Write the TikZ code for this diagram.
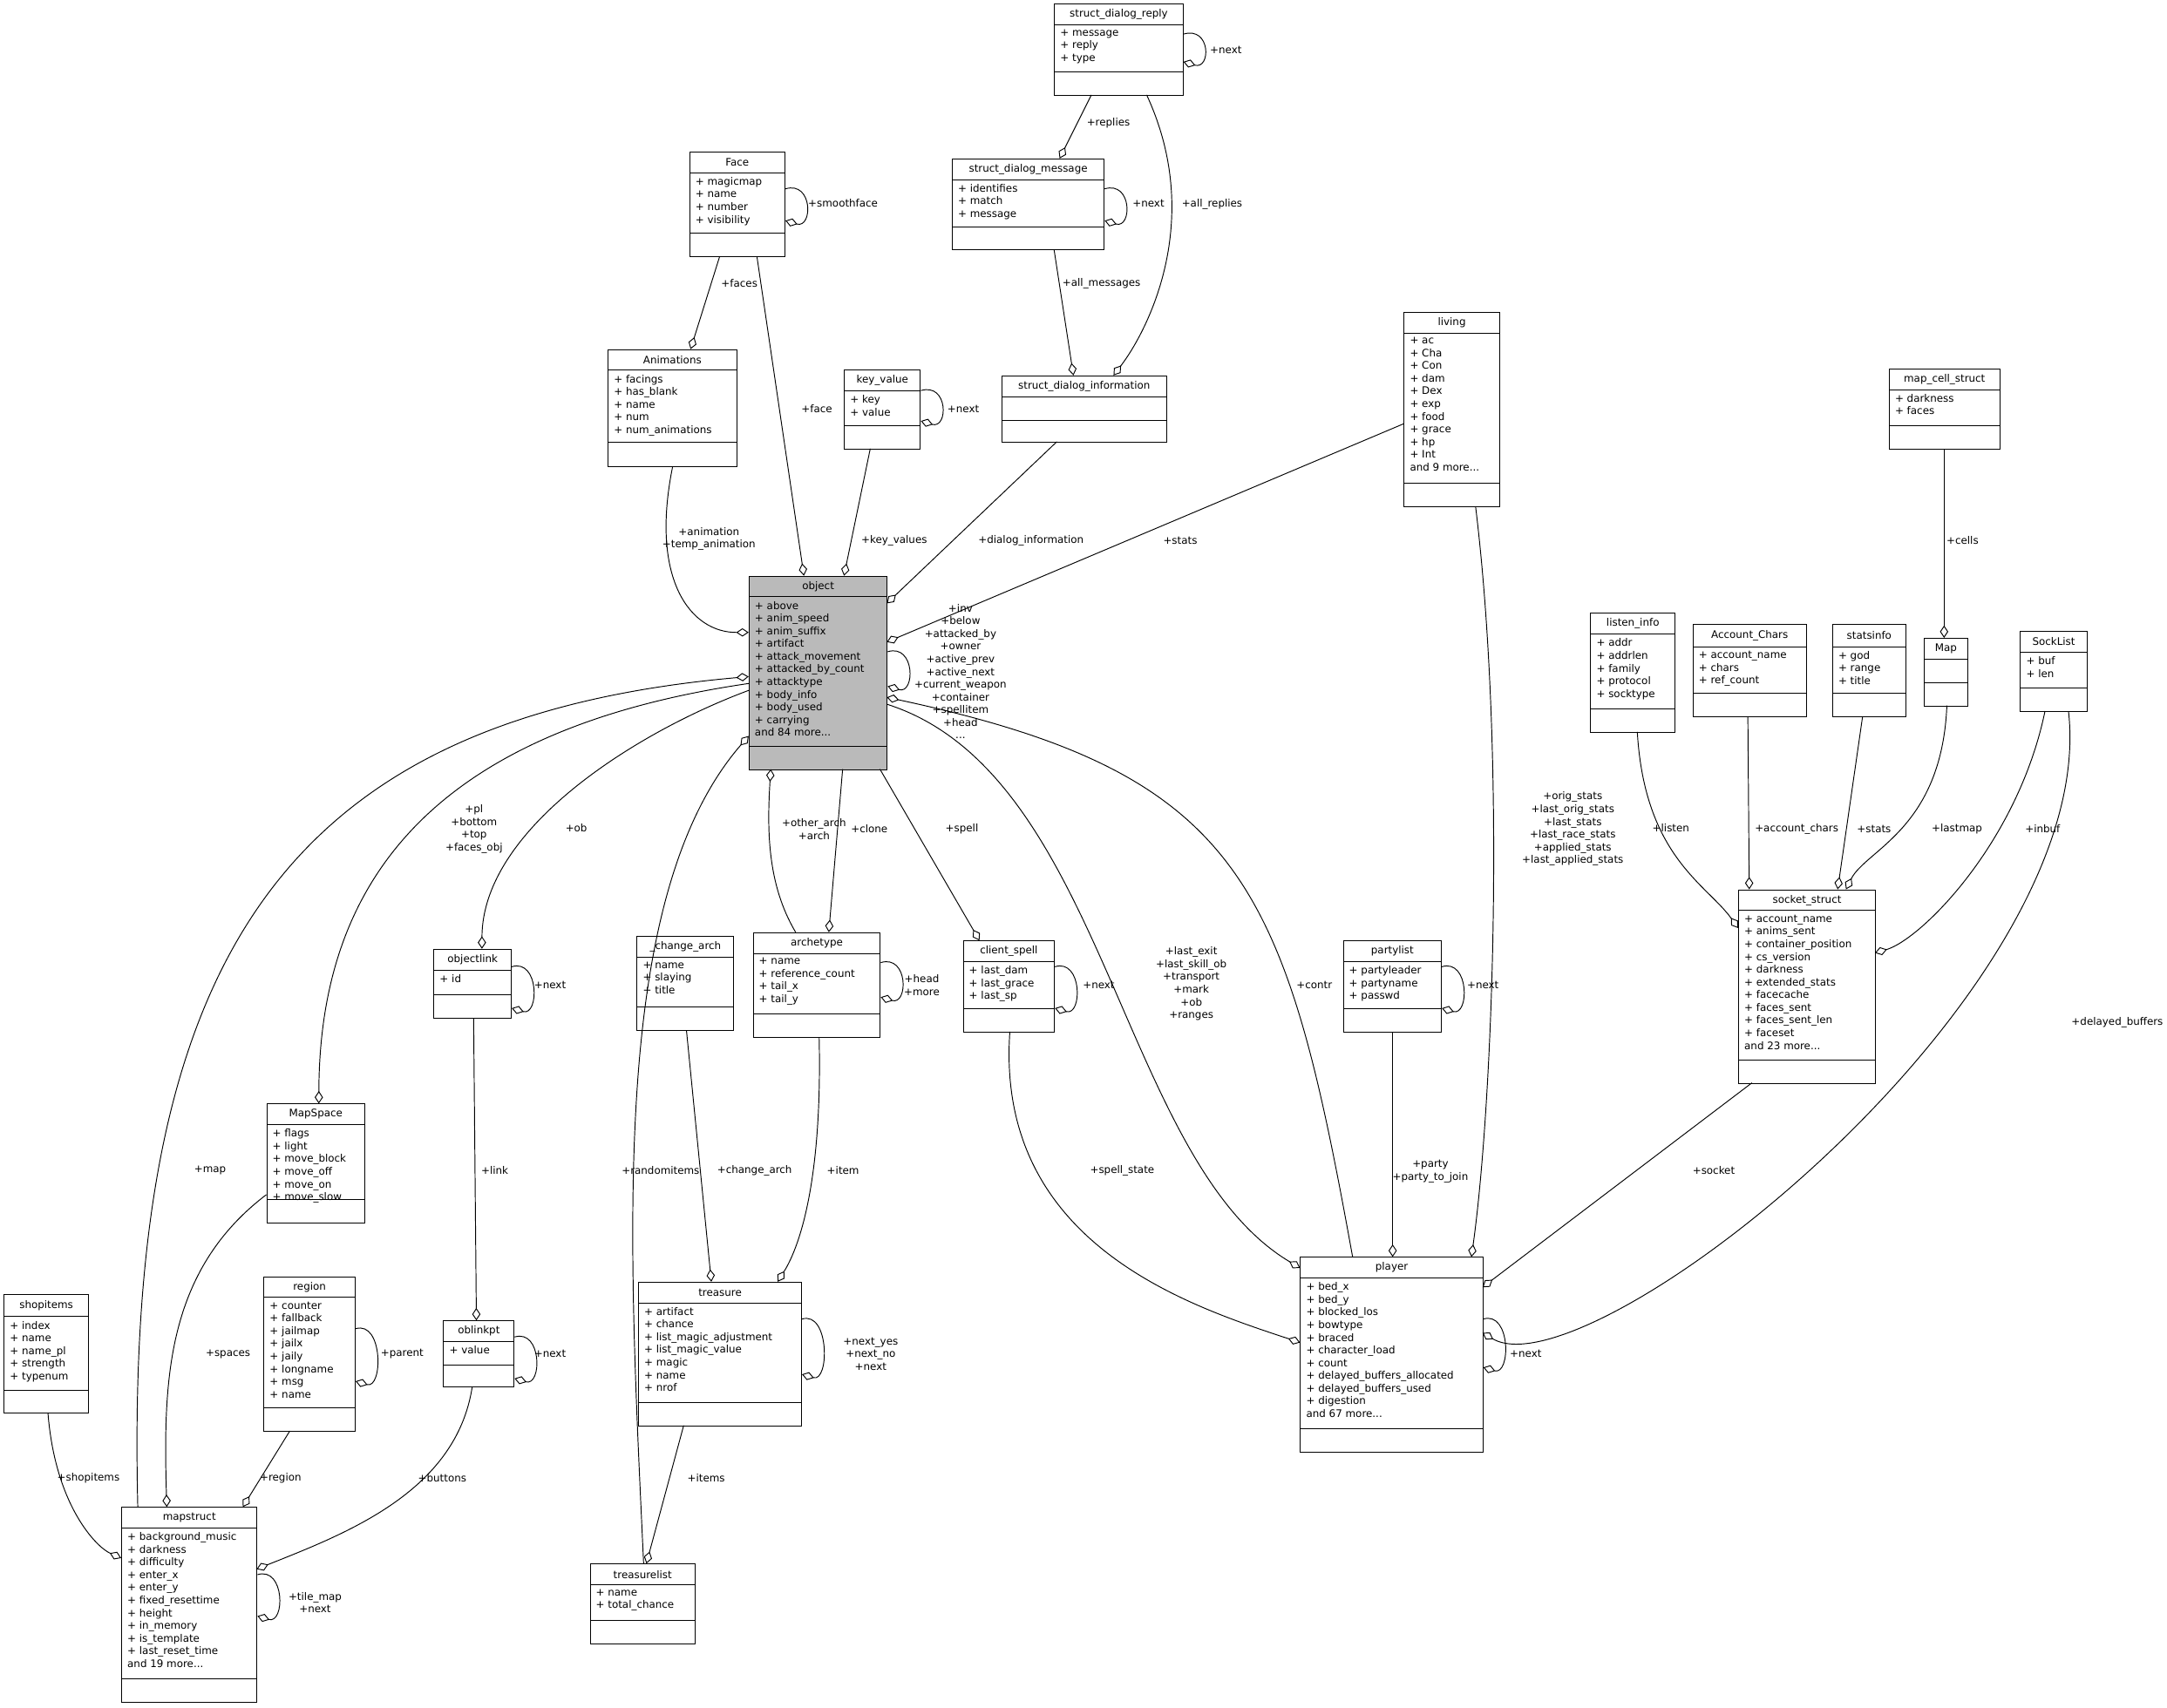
\documentclass[tikz,border=0pt]{standalone}
\usepackage{fontspec}
\setmainfont{DejaVu Sans}
\usetikzlibrary{fit,arrows.meta}
\newcommand\fs{\fontsize{7.5}{9.2}\selectfont}
\def\clsfill{white}
\newcommand\cls[9]{%
 \node[draw,fill=\clsfill,inner sep=0,line width=0.6pt,fit={(#2,#3)(#4,#5)}] (#1) {};
 \draw[line width=0.6pt] (#2,#6)--(#4,#6) (#2,#7)--(#4,#7);
 \node[inner sep=0] (#1t) at ({(#2+#4)/2},{(#3+#6)/2}) {#8};
 \node[anchor=north west,align=left,inner sep=0] (#1a) at ({#2+4},{#6+3}) {#9};
}
\begin{document}
\begin{tikzpicture}[x=1pt,y=-1pt,every node/.style={font=\fs},
 edge/.style={draw,line width=0.6pt,-{Diamond[open,length=9pt,width=6pt]}},
 lbl/.style={align=center,inner sep=0}]
\path[use as bounding box,fill=white] (0,0) rectangle (1568,1236);
\cls{reply}{763}{3}{856}{69}{18}{52}{struct\_dialog\_reply}{+ message\\+ reply\\+ type}
\cls{msg}{689}{115}{799}{181}{130}{164}{struct\_dialog\_message}{+ identifies\\+ match\\+ message}
\cls{face}{499}{110}{568}{186}{125}{169}{Face}{+ magicmap\\+ name\\+ number\\+ visibility}
\cls{anim}{440}{253}{533}{338}{268}{320}{Animations}{+ facings\\+ has\_blank\\+ name\\+ num\\+ num\_animations}
\cls{kv}{611}{268}{666}{325}{283}{308}{key\_value}{+ key\\+ value}
\cls{info}{725}{272}{844}{320}{287}{304}{struct\_dialog\_information}{}
\cls{living}{1016}{226}{1085}{367}{241}{350}{living}{+ ac\\+ Cha\\+ Con\\+ dam\\+ Dex\\+ exp\\+ food\\+ grace\\+ hp\\+ Int\\and 9 more...}
\cls{mcs}{1367}{267}{1447}{325}{282}{308}{map\_cell\_struct}{+ darkness\\+ faces}
\def\clsfill{black!27}
\cls{object}{542}{417}{642}{557}{432}{540}{object}{+ above\\+ anim\_speed\\+ anim\_suffix\\+ artifact\\+ attack\_movement\\+ attacked\_by\_count\\+ attacktype\\+ body\_info\\+ body\_used\\+ carrying\\and 84 more...}
\def\clsfill{white}
\cls{listen}{1151}{444}{1212}{530}{459}{513}{listen\_info}{+ addr\\+ addrlen\\+ family\\+ protocol\\+ socktype}
\cls{acc}{1225}{452}{1307}{519}{468}{502}{Account\_Chars}{+ account\_name\\+ chars\\+ ref\_count}
\cls{stats}{1326}{452}{1379}{519}{468}{502}{statsinfo}{+ god\\+ range\\+ title}
\cls{map}{1392}{462}{1424}{511}{477}{494}{Map}{}
\cls{sock}{1462}{457}{1510}{515}{472}{498}{SockList}{+ buf\\+ len}
\cls{olink}{314}{687}{370}{737}{702}{720}{objectlink}{+ id}
\cls{carch}{461}{678}{531}{746}{693}{729}{\_change\_arch}{+ name\\+ slaying\\+ title}
\cls{arch}{545}{675}{637}{751}{690}{734}{archetype}{+ name\\+ reference\_count\\+ tail\_x\\+ tail\_y}
\cls{cspell}{697}{681}{763}{747}{696}{730}{client\_spell}{+ last\_dam\\+ last\_grace\\+ last\_sp}
\cls{party}{972}{681}{1043}{747}{696}{730}{partylist}{+ partyleader\\+ partyname\\+ passwd}
\cls{socket}{1258}{644}{1357}{784}{659}{767}{socket\_struct}{+ account\_name\\+ anims\_sent\\+ container\_position\\+ cs\_version\\+ darkness\\+ extended\_stats\\+ facecache\\+ faces\_sent\\+ faces\_sent\_len\\+ faceset\\and 23 more...}
\cls{mspace}{193}{799}{264}{885}{814}{868}{MapSpace}{+ flags\\+ light\\+ move\_block\\+ move\_off\\+ move\_on\\+ move\_slow}
\cls{region}{191}{924}{257}{1036}{939}{1019}{region}{+ counter\\+ fallback\\+ jailmap\\+ jailx\\+ jaily\\+ longname\\+ msg\\+ name}
\cls{shop}{3}{937}{64}{1023}{953}{1006}{shopitems}{+ index\\+ name\\+ name\_pl\\+ strength\\+ typenum}
\cls{obpt}{321}{956}{372}{1004}{971}{988}{oblinkpt}{+ value}
\cls{treas}{462}{928}{580}{1032}{943}{1015}{treasure}{+ artifact\\+ chance\\+ list\_magic\_adjustment\\+ list\_magic\_value\\+ magic\\+ name\\+ nrof}
\cls{player}{941}{910}{1073}{1051}{925}{1034}{player}{+ bed\_x\\+ bed\_y\\+ blocked\_los\\+ bowtype\\+ braced\\+ character\_load\\+ count\\+ delayed\_buffers\_allocated\\+ delayed\_buffers\_used\\+ digestion\\and 67 more...}
\cls{mstruct}{88}{1091}{186}{1232}{1106}{1215}{mapstruct}{+ background\_music\\+ darkness\\+ difficulty\\+ enter\_x\\+ enter\_y\\+ fixed\_resettime\\+ height\\+ in\_memory\\+ is\_template\\+ last\_reset\_time\\and 19 more...}
\cls{tlist}{427}{1132}{503}{1190}{1147}{1173}{treasurelist}{+ name\\+ total\_chance}

% self loops
\draw[edge] ([shift={(0,22)}]reply.north east) .. controls +(20,-6) and +(20,6) .. ([shift={(0,42)}]reply.north east);
\node[lbl] (l1) at (887,36) {+next};
\draw[edge] ([shift={(0,22)}]msg.north east) .. controls +(20,-6) and +(20,6) .. ([shift={(0,45)}]msg.north east);
\node[lbl] (l2) at (831,147) {+next};
\draw[edge] ([shift={(0,27)}]face.north east) .. controls +(20,-6) and +(20,6) .. ([shift={(0,50)}]face.north east);
\node[lbl] (l3) at (610,147) {+smoothface};
\draw[edge] ([shift={(0,15)}]kv.north east) .. controls +(20,-6) and +(20,6) .. ([shift={(0,37)}]kv.north east);
\node[lbl] (l4) at (697,296) {+next};
\draw[edge] ([shift={(0,55)}]object.north east) .. controls +(20,-6) and +(20,6) .. ([shift={(0,80)}]object.north east);
\node[lbl] (l5) at (695,486) {+inv\\+below\\+attacked\_by\\+owner\\+active\_prev\\+active\_next\\+current\_weapon\\+container\\+spellitem\\+head\\...};
\draw[edge] ([shift={(0,22)}]arch.north east) .. controls +(20,-6) and +(20,6) .. ([shift={(0,47)}]arch.north east);
\node[lbl] (l6) at (667,713) {+head\\+more};
\draw[edge] ([shift={(0,13)}]olink.north east) .. controls +(20,-6) and +(20,6) .. ([shift={(0,43)}]olink.north east);
\node[lbl] (l7) at (398,713) {+next};
\draw[edge] ([shift={(0,19)}]cspell.north east) .. controls +(20,-6) and +(20,6) .. ([shift={(0,49)}]cspell.north east);
\node[lbl] (l8) at (795,713) {+next};
\draw[edge] ([shift={(0,19)}]party.north east) .. controls +(20,-6) and +(20,6) .. ([shift={(0,49)}]party.north east);
\node[lbl] (l9) at (1073,713) {+next};
\draw[edge] ([shift={(0,38)}]region.north east) .. controls +(20,-6) and +(20,6) .. ([shift={(0,76)}]region.north east);
\node[lbl] (l10) at (291,980) {+parent};
\draw[edge] ([shift={(0,12)}]obpt.north east) .. controls +(20,-6) and +(20,6) .. ([shift={(0,42)}]obpt.north east);
\node[lbl] (l11) at (398,980) {+next};
\draw[edge] ([shift={(0,27)}]treas.north east) .. controls +(20,-6) and +(20,6) .. ([shift={(0,67)}]treas.north east);
\node[lbl] (l12) at (630,980) {+next\_yes\\+next\_no\\+next};
\draw[edge] ([shift={(0,45)}]player.north east) .. controls +(20,-6) and +(20,6) .. ([shift={(0,80)}]player.north east);
\node[lbl] (l13) at (1104,980) {+next};
\draw[edge] ([shift={(0,49)}]mstruct.north east) .. controls +(20,-6) and +(20,6) .. ([shift={(0,79)}]mstruct.north east);
\node[lbl] (l14) at (228,1160) {+tile\_map\\+next};

% edges
\draw[edge] ([shift={(27,66)}]reply.north west) -- ([shift={(78,0)}]msg.north west);
\node[lbl] at (802,89) {+replies};
\draw[edge] ([shift={(67,66)}]reply.north west) .. controls (872,160) and (830,240) .. ([shift={(81,0)}]info.north west);
\node[lbl] at (877,148) {+all\_replies};
\draw[edge] ([shift={(74,66)}]msg.north west) -- ([shift={(52,0)}]info.north west);
\node[lbl] at (797,205) {+all\_messages};
\draw[edge] ([shift={(22,76)}]face.north west) -- ([shift={(60,0)}]anim.north west);
\node[lbl] at (535,205) {+faces};
\draw[edge] ([shift={(49,76)}]face.north west) -- ([shift={(40,0)}]object.north west);
\node[lbl] at (591,296) {+face};
\draw[edge] ([shift={(47,85)}]anim.north west) .. controls (470,420) and (500,458) .. ([shift={(0,41)}]object.north west);
\node[lbl] at (513,390) {+animation\\+temp\_animation};
\draw[edge] ([shift={(19,57)}]kv.north west) -- ([shift={(69,0)}]object.north west);
\node[lbl] at (647,391) {+key\_values};
\draw[edge] ([shift={(40,48)}]info.north west) -- ([shift={(100,20)}]object.north west);
\node[lbl] at (746,391) {+dialog\_information};
\draw[edge] ([shift={(0,81)}]living.north west) -- ([shift={(100,48)}]object.north west);
\node[lbl] at (854,391) {+stats};
\draw[edge] ([shift={(0,83)}]object.north west) .. controls (460,530) and (349,600) .. ([shift={(35,0)}]olink.north west);
\node[lbl] at (417,599) {+ob};
\draw[edge] ([shift={(0,78)}]object.north west) .. controls (300,530) and (231,650) .. ([shift={(38,0)}]mspace.north west);
\node[lbl] at (343,600) {+pl\\+bottom\\+top\\+faces\_obj};
\draw[edge] ([shift={(12,0)}]mstruct.north west) .. controls (90,700) and (200,520) .. ([shift={(0,73)}]object.north west);
\node[lbl] at (152,847) {+map};
\draw[edge] ([shift={(39,0)}]tlist.north west) .. controls (455,900) and (440,650) .. ([shift={(0,116)}]object.north west);
\node[lbl] at (478,847) {+randomitems};
\draw[edge] ([shift={(31,0)}]arch.north west) .. controls (555,640) and (555,600) .. ([shift={(16,140)}]object.north west);
\node[lbl] at (589,600) {+other\_arch\\+arch};
\draw[edge] ([shift={(68,140)}]object.north west) -- ([shift={(55,0)}]arch.north west);
\node[lbl] at (629,600) {+clone};
\draw[edge] ([shift={(95,140)}]object.north west) -- ([shift={(12,0)}]cspell.north west);
\node[lbl] at (696,600) {+spell};
\draw[edge] ([shift={(100,93)}]object.north west) .. controls (800,560) and (810,840) .. ([shift={(0,8)}]player.north west);
\node[lbl] at (862,712) {+last\_exit\\+last\_skill\_ob\\+transport\\+mark\\+ob\\+ranges};
\draw[edge] ([shift={(38,0)}]player.north west) .. controls (930,640) and (900,560) .. ([shift={(100,88)}]object.north west);
\node[lbl] at (951,713) {+contr};
\draw[edge] ([shift={(52,141)}]living.north west) .. controls (1090,550) and (1080,800) .. ([shift={(124,0)}]player.north west);
\node[lbl] at (1138,600) {+orig\_stats\\+last\_orig\_stats\\+last\_stats\\+last\_race\_stats\\+applied\_stats\\+last\_applied\_stats};
\draw[edge] ([shift={(40,58)}]mcs.north west) -- ([shift={(15,0)}]map.north west);
\node[lbl] at (1420,391) {+cells};
\draw[edge] ([shift={(34,86)}]listen.north west) .. controls (1190,620) and (1235,640) .. ([shift={(0,28)}]socket.north west);
\node[lbl] at (1209,599) {+listen};
\draw[edge] ([shift={(40,67)}]acc.north west) -- ([shift={(8,0)}]socket.north west);
\node[lbl] at (1300,600) {+account\_chars};
\draw[edge] ([shift={(22,67)}]stats.north west) -- ([shift={(72,0)}]socket.north west);
\node[lbl] at (1356,600) {+stats};
\draw[edge] ([shift={(17,49)}]map.north west) .. controls (1405,600) and (1350,615) .. ([shift={(78,0)}]socket.north west);
\node[lbl] at (1416,600) {+lastmap};
\draw[edge] ([shift={(18,58)}]sock.north west) .. controls (1460,610) and (1390,680) .. ([shift={(99,46)}]socket.north west);
\node[lbl] at (1478,600) {+inbuf};
\draw[edge] ([shift={(35,58)}]sock.north west) .. controls (1520,720) and (1150,1010) .. ([shift={(132,55)}]player.north west);
\node[lbl] at (1532,740) {+delayed\_buffers};
\draw[edge] ([shift={(10,140)}]socket.north west) -- ([shift={(132,22)}]player.north west);
\node[lbl] at (1240,847) {+socket};
\draw[edge] ([shift={(36,66)}]party.north west) -- ([shift={(67,0)}]player.north west);
\node[lbl] at (1035,848) {+party\\+party\_to\_join};
\draw[edge] ([shift={(34,66)}]cspell.north west) .. controls (720,900) and (860,945) .. ([shift={(0,62)}]player.north west);
\node[lbl] at (812,847) {+spell\_state};
\draw[edge] ([shift={(36,68)}]carch.north west) -- ([shift={(53,0)}]treas.north west);
\node[lbl] at (546,847) {+change\_arch};
\draw[edge] ([shift={(48,76)}]arch.north west) .. controls (595,850) and (580,900) .. ([shift={(101,0)}]treas.north west);
\node[lbl] at (610,847) {+item};
\draw[edge] ([shift={(33,104)}]treas.north west) -- ([shift={(41,0)}]tlist.north west);
\node[lbl] at (511,1070) {+items};
\draw[edge] ([shift={(29,50)}]olink.north west) -- ([shift={(24,0)}]obpt.north west);
\node[lbl] at (358,847) {+link};
\draw[edge] ([shift={(21,48)}]obpt.north west) .. controls (330,1080) and (250,1110) .. ([shift={(98,45)}]mstruct.north west);
\node[lbl] at (320,1070) {+buttons};
\draw[edge] ([shift={(0,66)}]mspace.north west) .. controls (120,920) and (118,1000) .. ([shift={(33,0)}]mstruct.north west);
\node[lbl] at (165,980) {+spaces};
\draw[edge] ([shift={(19,112)}]region.north west) -- ([shift={(88,0)}]mstruct.north west);
\node[lbl] at (203,1070) {+region};
\draw[edge] ([shift={(32,86)}]shop.north west) .. controls (40,1090) and (70,1120) .. ([shift={(0,37)}]mstruct.north west);
\node[lbl] at (64,1070) {+shopitems};
\end{tikzpicture}
\end{document}
